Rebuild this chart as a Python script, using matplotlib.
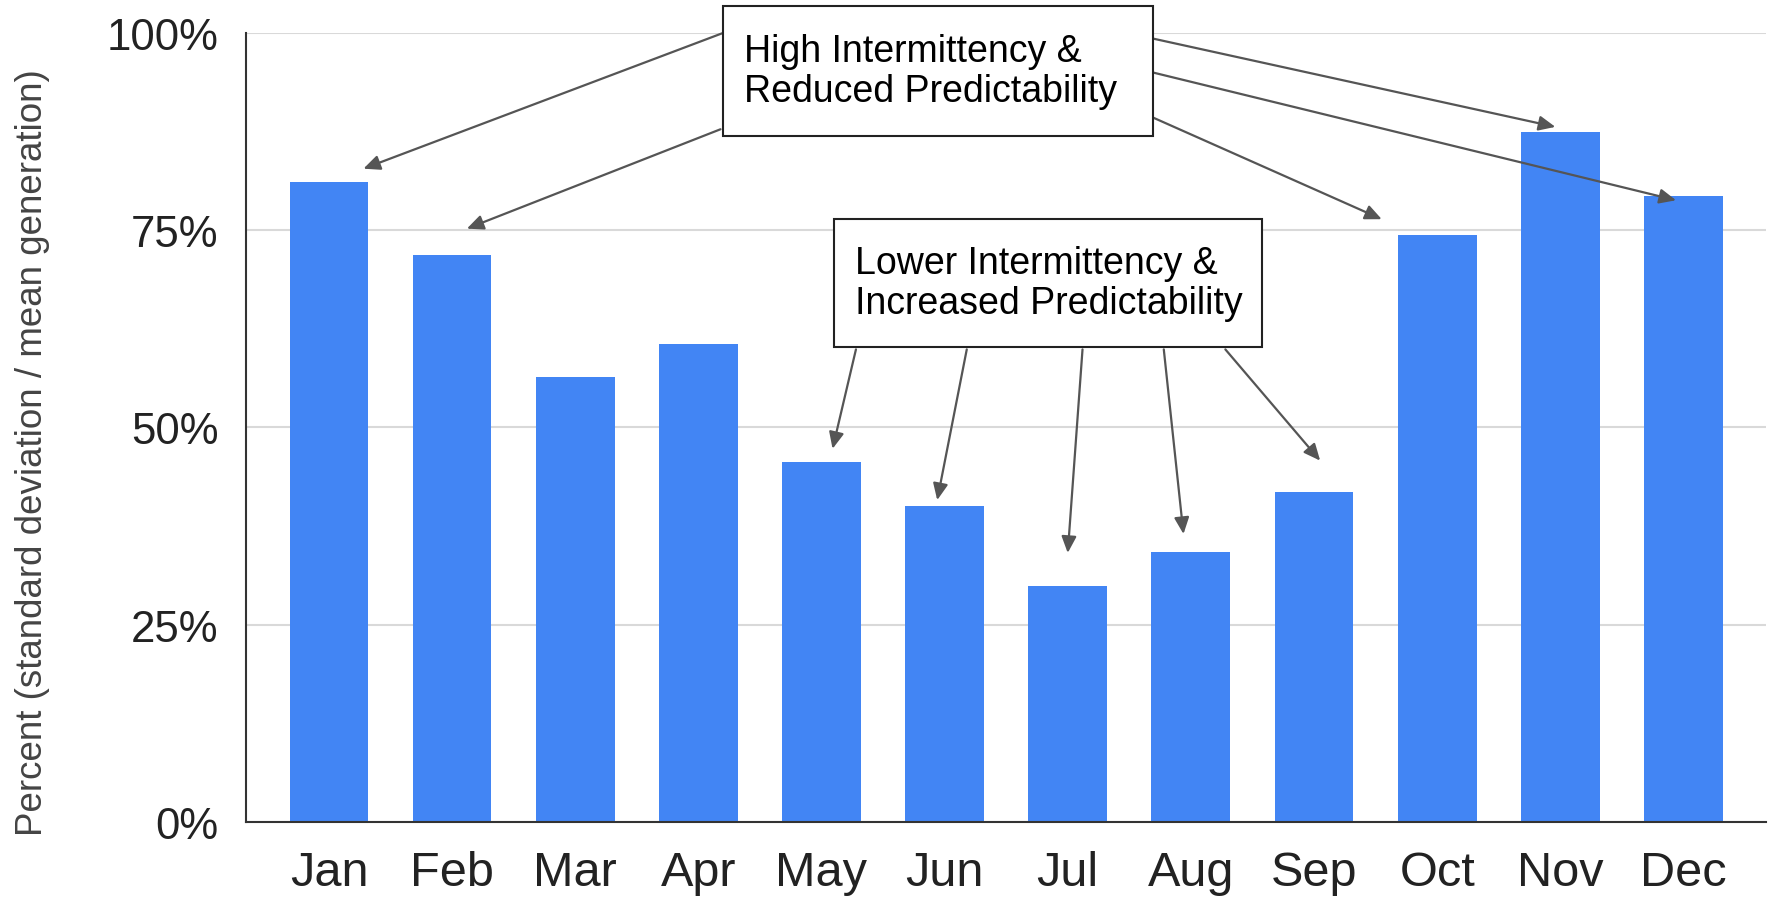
import matplotlib
matplotlib.use("Agg")
import matplotlib.pyplot as plt
from matplotlib.patches import Rectangle

plt.rcParams['font.family'] = ['Liberation Sans', 'DejaVu Sans']

# data
months = ["Jan", "Feb", "Mar", "Apr", "May", "Jun", "Jul", "Aug", "Sep", "Oct", "Nov", "Dec"]
values = [81.1, 71.8, 56.4, 60.6, 45.6, 40.0, 29.9, 34.2, 41.8, 74.4, 87.4, 79.4]
yticks = [0, 25, 50, 75, 100]
ytick_labels = ["0%", "25%", "50%", "75%", "100%"]

high_text = "High Intermittency &\nReduced Predictability"
low_text = "Lower Intermittency &\nIncreased Predictability"

fig = plt.figure(figsize=(17.73, 9.04), dpi=100)
ax = fig.add_axes([0.139, 0.0896, 0.857, 0.8728])

x = list(range(len(months)))
ax.bar(x, values, width=0.64, color="#4285F4", zorder=2)

ax.set_xlim(-0.67, 11.67)
ax.set_ylim(0, 100)
ax.set_yticks(yticks)
ax.set_yticklabels(ytick_labels, fontsize=31.5, color="#222222")
ax.set_xticks(x)
ax.set_xticklabels(months, fontsize=35, color="#222222")
ax.tick_params(axis='y', length=0, pad=20)
ax.tick_params(axis='x', length=0, pad=20)
ax.grid(axis='y', color="#d9d9d9", linewidth=1.5, zorder=0)
ax.set_axisbelow(True)

for s in ["top", "right"]:
    ax.spines[s].set_visible(False)
ax.spines["left"].set_color("#333333")
ax.spines["bottom"].set_color("#333333")
ax.spines["left"].set_linewidth(1.5)
ax.spines["bottom"].set_linewidth(1.5)

ax.set_ylabel("Percent (standard deviation / mean generation)", fontsize=26.5, color="#444444")
ax.yaxis.set_label_coords(-0.129, 0.47)

# annotation boxes
ax.add_patch(Rectangle((3.20, 87.0), 3.49, 16.4, facecolor="white", edgecolor="#222222",
                       linewidth=1.5, clip_on=False, zorder=4))
ax.text(3.37, 95.2, high_text, fontsize=27, ha='left', va='center', linespacing=1.15,
        zorder=5, clip_on=False)
ax.add_patch(Rectangle((4.10, 60.2), 3.48, 16.2, facecolor="white", edgecolor="#222222",
                       linewidth=1.5, clip_on=False, zorder=4))
ax.text(4.27, 68.3, low_text, fontsize=27, ha='left', va='center', linespacing=1.15,
        zorder=5)

arrow = dict(arrowstyle="-|>,head_length=1.0,head_width=0.45", color="#555555", lw=1.6,
             shrinkA=0, shrinkB=0)

high_arrows = [((3.20, 100.0), (0.28, 82.8)),
               ((3.18, 87.8), (1.12, 75.2)),
               ((6.69, 89.3), (8.55, 76.4)),
               ((6.69, 99.3), (9.96, 88.1)),
               ((6.69, 95.0), (10.94, 78.8))]
low_arrows = [((4.28, 59.9), (4.09, 47.3)),
              ((5.18, 59.9), (4.94, 40.8)),
              ((6.12, 59.9), (6.00, 34.1)),
              ((6.78, 59.9), (6.94, 36.5)),
              ((7.28, 59.9), (8.05, 45.8))]

for start, end in high_arrows + low_arrows:
    ax.annotate("", xy=end, xytext=start, arrowprops=arrow, zorder=3, annotation_clip=False)

fig.savefig("out.png", dpi=100)
